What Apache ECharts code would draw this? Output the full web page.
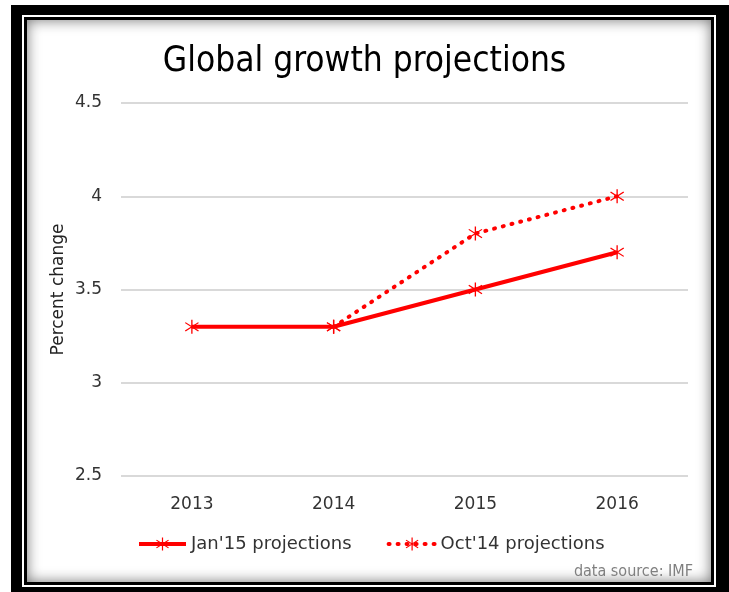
<!DOCTYPE html>
<html lang="en">
<head>
  <meta charset="UTF-8">
  <title>Global growth projections</title>
  <script src="https://cdn.jsdelivr.net/npm/echarts@6/dist/echarts.min.js"></script>
  <style>
    body { margin: 0; background: #fff; }
    .frame-outer { position: absolute; left: 11px; top: 5px; width: 718px; height: 587px; background: #000; }
    .frame-gap { position: absolute; left: 22px; top: 15px; width: 694px; height: 572px; background: #fff; }
    .frame-inner { position: absolute; left: 24px; top: 17px; width: 690px; height: 568px; background: #000; }
    .frame-paper { position: absolute; left: 27px; top: 20px; width: 684px; height: 562px; background: #fff;
      box-shadow: inset 0 0 14px rgba(0, 0, 0, 0.55); }
    #main { position: absolute; left: 0; top: 0; width: 729px; height: 592px; }
  </style>
</head>
<body>
<div class="frame-outer"></div>
<div class="frame-gap"></div>
<div class="frame-inner"></div>
<div class="frame-paper"></div>
<div id="main"></div>
<script>
  var years = ['2013', '2014', '2015', '2016'];
  var jan15 = [3.3, 3.3, 3.5, 3.7];
  var oct14 = ['-', 3.3, 3.8, 4.0];

  var red = '#ff0000';
  // asterisk marker, like the excel star
  var star = 'path://M9.2 0L9.2 20L10.8 20L10.8 0Z' +
    'M1.52 4.64L17.52 16.64L18.48 15.36L2.48 3.36Z' +
    'M2.48 16.64L18.48 4.64L17.52 3.36L1.52 15.36Z';

  var myChart = echarts.init(document.getElementById('main'));
  myChart.setOption({
    animation: false,
    title: [
      {
        text: 'Global growth projections',
        left: 'center',
        top: 39,
        textStyle: {
          fontFamily: '"DejaVu Sans Condensed", sans-serif',
          fontSize: 35,
          fontWeight: 'normal',
          color: '#000'
        }
      },
      {
        text: 'data source: IMF',
        right: 31,
        top: 559,
        textStyle: {
          fontFamily: '"DejaVu Sans Condensed", sans-serif',
          fontSize: 16,
          fontWeight: 'normal',
          color: '#7f7f7f'
        }
      }
    ],
    legend: {
      left: 132,
      top: 530,
      itemWidth: 47,
      itemHeight: 16,
      itemGap: 35,
      lineStyle: {width: 4},
      textStyle: {
        fontFamily: '"DejaVu Sans", sans-serif',
        fontSize: 18,
        color: '#333'
      },
      data: ["Jan'15 projections", "Oct'14 projections"]
    },
    grid: {
      left: 121,
      right: 41,
      top: 103,
      bottom: 116
    },
    xAxis: {
      type: 'category',
      data: years,
      boundaryGap: true,
      axisLine: {show: false},
      axisTick: {show: false},
      axisLabel: {
        margin: 20,
        fontFamily: '"DejaVu Sans", sans-serif',
        fontSize: 17,
        color: '#333'
      }
    },
    yAxis: {
      type: 'value',
      min: 2.5,
      max: 4.5,
      interval: 0.5,
      name: 'Percent change',
      nameLocation: 'middle',
      nameGap: 54,
      nameMoveOverlap: false,
      nameTextStyle: {
        fontFamily: '"DejaVu Sans", sans-serif',
        fontSize: 17,
        color: '#222'
      },
      axisLine: {show: false},
      axisTick: {show: false},
      axisLabel: {
        margin: 19,
        fontFamily: '"DejaVu Sans", sans-serif',
        fontSize: 17,
        color: '#333'
      },
      splitLine: {
        lineStyle: {color: '#d9d9d9', width: 2}
      }
    },
    series: [
      {
        name: "Oct'14 projections",
        type: 'line',
        data: oct14,
        symbol: star,
        symbolSize: 14,
        itemStyle: {color: red},
        lineStyle: {color: red, width: 4, type: [1, 8], cap: 'round'}
      },
      {
        name: "Jan'15 projections",
        type: 'line',
        data: jan15,
        symbol: star,
        symbolSize: 14,
        itemStyle: {color: red},
        lineStyle: {color: red, width: 4}
      }
    ]
  });
</script>
</body>
</html>
